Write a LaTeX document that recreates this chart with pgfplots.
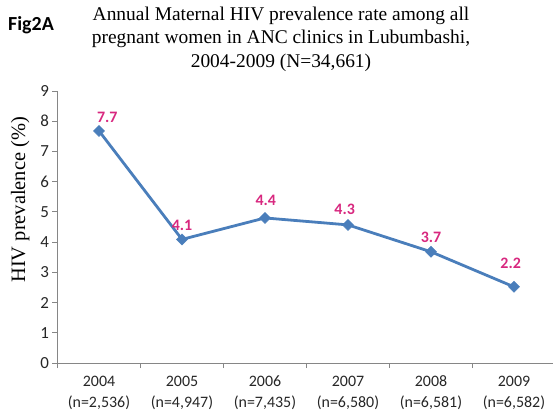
\documentclass[border=0pt]{standalone}
\usepackage{fontspec}
\setmainfont{Liberation Serif}
\newfontfamily\carlito{Carlito}
\usepackage{pgfplots}
\usepackage{pgfplotstable}
\pgfplotsset{compat=1.18}

\definecolor{lineblue}{HTML}{4A7EBB}
\definecolor{labelpink}{HTML}{D8287F}
\definecolor{axisgray}{HTML}{868686}

% plotted value, printed label, label position
\pgfplotstableread{
x  y     lbl  lx    ly
0  7.68  7.7  0.10  8.12
1  4.09  4.1  1.00  4.57
2  4.80  4.4  2.01  5.37
3  4.57  4.3  2.96  5.07
4  3.68  3.7  4.00  4.17
5  2.52  2.2  4.96  3.31
}\prevtable

\begin{document}
\begin{tikzpicture}
\begin{axis}[
    at={(57.5bp,-363bp)}, anchor=south west,
    scale only axis, width=498bp, height=272bp,
    xmin=-0.5, xmax=5.5, ymin=0, ymax=9,
    axis x line=bottom, axis y line=left,
    axis line style={axisgray, line width=0.9bp, -},
    tick style={axisgray, line width=0.9bp},
    tick align=outside,
    xtick={0,...,5},
    xticklabels={{2004\\(n=2,536)},{2005\\(n=4,947)},{2006\\(n=7,435)},
                 {2007\\(n=6,580)},{2008\\(n=6,581)},{2009\\(n=6,582)}},
    xticklabel style={align=center, text=black!85, yshift=-4.5bp,
        font=\carlito\fontsize{16}{21}\selectfont},
    major x tick style={draw=none},
    minor xtick={-0.5,0.5,1.5,2.5,3.5,4.5,5.5},
    minor tick length=5bp,
    ytick={0,...,9},
    major tick length=5bp,
    yticklabel style={text=black!85, font=\carlito\fontsize{17}{17}\selectfont},
    /pgf/number format/assume math mode=true,
    ylabel={HIV prevalence (\%)},
    ylabel style={at={(axis description cs:-0.075,0.6)}, anchor=center,
        font=\fontsize{20.5}{20.5}\selectfont},
    clip=false,
]
\addplot[color=lineblue, line width=2.8bp,
    mark=square*, mark size=3.9bp,
    mark options={rotate=45, fill=lineblue, line width=0.5bp},
] table[x=x, y=y] {\prevtable};

% data labels
\addplot[draw=none, mark=none,
    point meta=explicit symbolic,
    nodes near coords,
    nodes near coords style={anchor=center, text=labelpink,
        font=\carlito\bfseries\fontsize{16}{16}\selectfont},
] table[x=lx, y=ly, meta=lbl] {\prevtable};
\end{axis}

\node[font=\carlito\bfseries\fontsize{20}{20}\selectfont] at (31bp,-25bp) {Fig2A};
\node[align=center, font=\fontsize{19.5}{23.5}\selectfont] at (281bp,-39bp)
    {Annual Maternal HIV prevalence rate among all\\
     pregnant women in ANC clinics in Lubumbashi,\\
     2004-2009 (N=34,661)};

\pgfresetboundingbox
\useasboundingbox (0,0) rectangle (553bp,-414bp);
\end{tikzpicture}
\end{document}
